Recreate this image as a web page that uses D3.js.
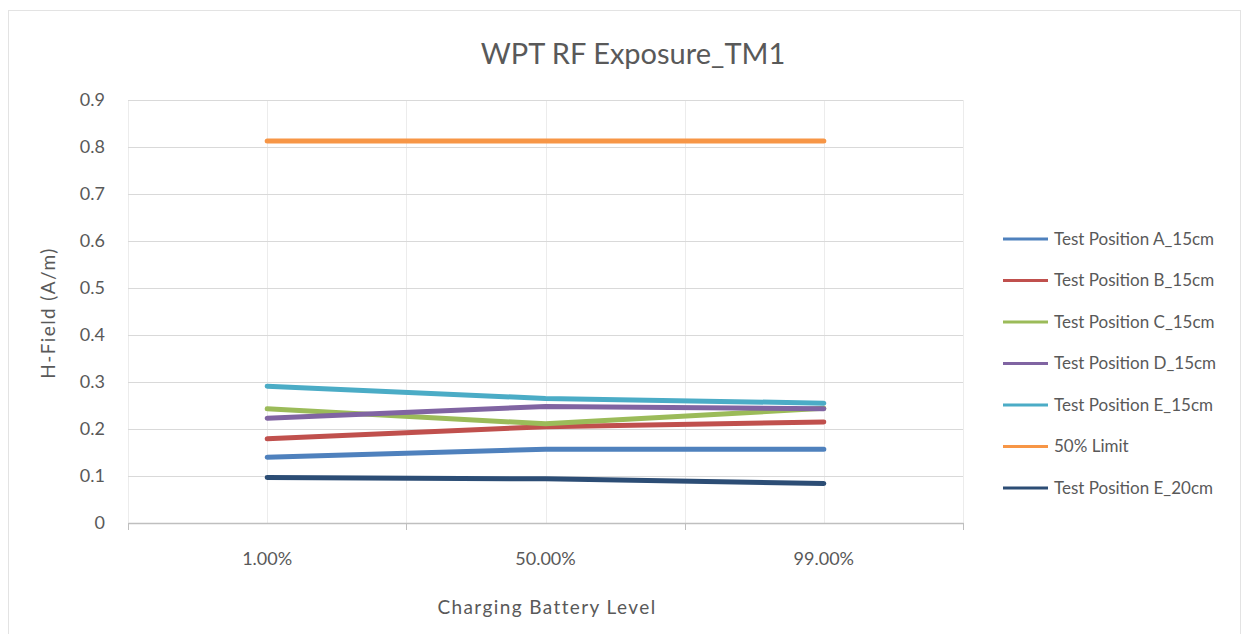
<!DOCTYPE html>
<html lang="en">
<head>
<meta charset="UTF-8">
<title>WPT RF Exposure_TM1</title>
<style>
  body { margin: 0; background: #fff; }
  text { font-family: Lato, "Open Sans", sans-serif; fill: #595959; }
</style>
<script src="https://d3js.org/d3.v7.min.js"></script>
</head>
<body>
<div id="chart"></div>
<script>
var categories = ["1.00%", "50.00%", "99.00%"];
var seriesNames = ["Test Position A_15cm", "Test Position B_15cm", "Test Position C_15cm",
  "Test Position D_15cm", "Test Position E_15cm", "50% Limit", "Test Position E_20cm"];
var seriesColors = ["#4F81BD", "#C0504D", "#9BBB59", "#8064A2", "#4BACC6", "#F79646", "#2C4D75"];
var posA15 = [0.140, 0.157, 0.157];
var posB15 = [0.179, 0.205, 0.215];
var posC15 = [0.243, 0.211, 0.244];
var posD15 = [0.223, 0.248, 0.243];
var posE15 = [0.291, 0.265, 0.255];
var limit50 = [0.813, 0.813, 0.813];
var posE20 = [0.097, 0.094, 0.084];
var yTicks = [0, 0.1, 0.2, 0.3, 0.4, 0.5, 0.6, 0.7, 0.8, 0.9];

var seriesValues = [posA15, posB15, posC15, posD15, posE15, limit50, posE20];

var W = 1249, H = 634;
var plot = {left: 128, right: 963, top: 100, bottom: 523};

var svg = d3.select("#chart").append("svg")
    .attr("width", W)
    .attr("height", H);

// chart frame
svg.append("rect")
    .attr("x", 8.5).attr("y", 10.5)
    .attr("width", 1232).attr("height", 640)
    .attr("fill", "#fff")
    .attr("stroke", "#e3e3e3");

var x = d3.scaleBand().domain(categories).range([plot.left, plot.right]).padding(0);
var y = d3.scaleLinear().domain([0, 0.9]).range([plot.bottom, plot.top]);

// vertical gridlines (category centres and boundaries)
var vLines = [];
categories.forEach(function(c) {
  vLines.push(x(c));
  vLines.push(x(c) + x.bandwidth() / 2);
});
vLines.push(plot.right);
svg.append("g").selectAll("line")
    .data(vLines).enter().append("line")
    .attr("x1", function(d) { return Math.round(d) + 0.5; })
    .attr("x2", function(d) { return Math.round(d) + 0.5; })
    .attr("y1", plot.top).attr("y2", plot.bottom)
    .attr("stroke", "#ececec");

// horizontal gridlines
svg.append("g").selectAll("line")
    .data(yTicks.slice(1)).enter().append("line")
    .attr("x1", plot.left).attr("x2", plot.right)
    .attr("y1", function(d) { return Math.round(y(d)) + 0.5; })
    .attr("y2", function(d) { return Math.round(y(d)) + 0.5; })
    .attr("stroke", "#d9d9d9")
    .attr("stroke-width", 1.2);

// y tick labels
svg.append("g").selectAll("text")
    .data(yTicks).enter().append("text")
    .attr("x", 105)
    .attr("y", function(d) { return y(d); })
    .attr("dy", "0.35em")
    .attr("text-anchor", "end")
    .attr("font-size", "18px")
    .text(function(d) { return d === 0 ? "0" : d3.format(".1f")(d); });

// x axis
var xAxis = d3.axisBottom(x).tickSize(0).tickPadding(29);
var gx = svg.append("g")
    .attr("transform", "translate(0," + plot.bottom + ")")
    .call(xAxis);
gx.select(".domain").attr("stroke", "#bfbfbf").attr("stroke-width", 1.5);
gx.selectAll(".tick text").attr("font-size", "18px").attr("fill", "#595959")
    .style("font-family", "Lato, 'Open Sans', sans-serif");
var bounds = categories.map(function(c) { return x(c); }).concat([plot.right]);
svg.append("g").selectAll("line")
    .data(bounds).enter().append("line")
    .attr("x1", function(d) { return Math.round(d) + 0.5; })
    .attr("x2", function(d) { return Math.round(d) + 0.5; })
    .attr("y1", plot.bottom).attr("y2", plot.bottom + 7)
    .attr("stroke", "#bfbfbf");

// series lines
var line = d3.line()
    .x(function(d, i) { return x(categories[i]) + x.bandwidth() / 2; })
    .y(function(d) { return y(d); });

svg.append("g").selectAll("path")
    .data(seriesValues).enter().append("path")
    .attr("d", line)
    .attr("fill", "none")
    .attr("stroke", function(d, i) { return seriesColors[i]; })
    .attr("stroke-width", 5)
    .attr("stroke-linecap", "round")
    .attr("stroke-linejoin", "round");

// titles
svg.append("text")
    .attr("x", 633).attr("y", 64)
    .attr("text-anchor", "middle")
    .attr("font-size", "29px")
    .text("WPT RF Exposure_TM1");

svg.append("text")
    .attr("x", 547).attr("y", 614)
    .attr("text-anchor", "middle")
    .attr("font-size", "19px")
    .attr("letter-spacing", "1.4px")
    .text("Charging Battery Level");

svg.append("text")
    .attr("transform", "translate(55,313) rotate(-90)")
    .attr("text-anchor", "middle")
    .attr("font-size", "19px")
    .attr("letter-spacing", "1.4px")
    .text("H-Field (A/m)");

// legend
var legend = svg.append("g").selectAll("g")
    .data(seriesNames).enter().append("g")
    .attr("transform", function(d, i) { return "translate(1003," + (239 + i * 41.5) + ")"; });
legend.append("line")
    .attr("x1", 0).attr("x2", 45)
    .attr("stroke", function(d, i) { return seriesColors[i]; })
    .attr("stroke-width", 3);
legend.append("text")
    .attr("x", 51)
    .attr("dy", "0.35em")
    .attr("font-size", "17px")
    .text(function(d) { return d; });
</script>
</body>
</html>
